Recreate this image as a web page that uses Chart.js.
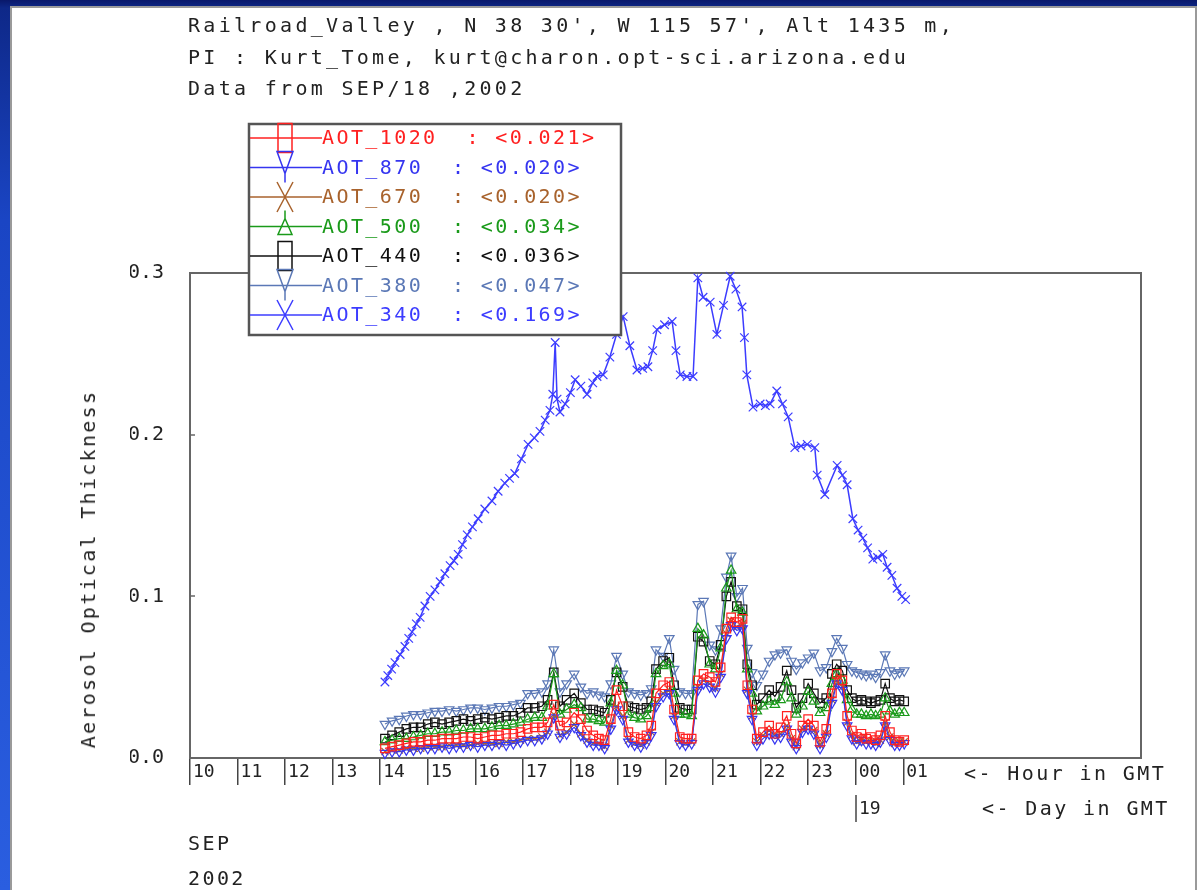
<!DOCTYPE html>
<html><head><meta charset="utf-8">
<script src="https://cdn.jsdelivr.net/npm/chart.js@4.4.1/dist/chart.umd.min.js"></script>
<style>
html,body{margin:0;padding:0;}
body{width:1197px;height:890px;overflow:hidden;position:relative;background:linear-gradient(180deg,#09186a 0px,#0e2888 8px,#1a45c4 220px,#2a5ee0 890px);font-family:"DejaVu Sans Mono",monospace;}
#panel{position:absolute;left:10px;top:6px;width:1183px;height:890px;background:#fff;border-left:2px solid #9a9a9a;border-top:2px solid #9a9a9a;border-right:2px solid #9a9a9a;}
#c{position:absolute;left:0;top:0;}
.t{position:absolute;white-space:pre;color:#222;font-size:20px;letter-spacing:3.3px;line-height:20px;}
.s{position:absolute;white-space:pre;color:#222;font-size:20px;letter-spacing:2.4px;line-height:20px;}
</style></head><body>
<div id="panel"></div>
<canvas id="c" width="1197" height="890"></canvas>
<div class="t" style="left:188px;top:15px">Railroad_Valley , N 38 30', W 115 57', Alt 1435 m,</div>
<div class="t" style="left:188px;top:47px">PI : Kurt_Tome, kurt@charon.opt-sci.arizona.edu</div>
<div class="t" style="left:188px;top:78px">Data from SEP/18 ,2002</div>
<div class="s" style="left:88px;top:569px;letter-spacing:2.3px;transform:translate(-50%,-50%) rotate(-90deg);">Aerosol Optical Thickness</div>
<div class="s" style="left:964px;top:763px">&lt;- Hour in GMT</div>
<div class="s" style="left:982px;top:798px">&lt;- Day in GMT</div>
<div class="s" style="left:188px;top:833px">SEP</div>
<div class="s" style="left:188px;top:868px">2002</div>
<script>
// ---------- data ----------
const seriesNames = ['AOT_1020','AOT_870','AOT_670','AOT_500','AOT_440','AOT_380','AOT_340'];
const legendMeans = [0.021, 0.020, 0.020, 0.034, 0.036, 0.047, 0.169];
const hourTicks = [10,11,12,13,14,15,16,17,18,19,20,21,22,23,24,25];
const hourTickLabels = ['10','11','12','13','14','15','16','17','18','19','20','21','22','23','00','01'];
const dayTicks = [24];
const dayTickLabels = ['19'];
const yTicks = [0, 0.1, 0.2, 0.3];

const hours = [14.10,14.25,14.40,14.55,14.70,14.85,15.00,15.15,15.30,15.45,15.60,15.75,15.90,16.05,16.20,16.35,16.50,16.65,16.80,16.95,
17.10,17.25,17.40,17.52,17.65,17.78,17.92,18.08,18.22,18.35,18.48,18.60,18.72,18.85,18.97,19.10,19.22,19.35,19.48,19.60,
19.70,19.80,19.95,20.08,20.18,20.30,20.42,20.55,20.68,20.80,20.93,21.05,21.16,21.28,21.38,21.50,21.62,21.72,21.82,21.92,
22.05,22.18,22.30,22.42,22.55,22.65,22.75,22.88,23.00,23.12,23.25,23.38,23.50,23.60,23.72,23.82,23.92,24.02,24.12,24.22,
24.32,24.42,24.52,24.62,24.72,24.82,24.92,25.02];

const aot380 = [.021,.023,.024,.026,.027,.027,.028,.029,.029,.030,.029,.030,.031,.031,.030,.031,.032,.032,.033,.034,
.040,.040,.041,.046,.067,.041,.046,.052,.044,.040,.041,.039,.038,.046,.063,.052,.041,.040,.039,.040,
.043,.067,.063,.074,.055,.041,.040,.040,.095,.097,.070,.067,.080,.112,.125,.100,.105,.068,.053,.045,
.052,.060,.064,.065,.067,.060,.055,.059,.062,.065,.054,.056,.066,.074,.068,.058,.054,.053,.052,.051,
.052,.050,.053,.064,.054,.052,.053,.054];
const aot440 = [.012,.014,.016,.018,.019,.019,.021,.022,.021,.022,.023,.024,.023,.024,.025,.024,.025,.026,.026,.028,
.031,.031,.032,.036,.053,.032,.036,.040,.034,.030,.030,.029,.028,.036,.053,.044,.032,.031,.030,.031,
.035,.055,.060,.062,.045,.031,.030,.030,.075,.072,.060,.058,.070,.100,.109,.094,.092,.058,.045,.033,
.037,.042,.038,.044,.054,.042,.031,.037,.046,.040,.034,.037,.052,.058,.054,.042,.037,.035,.036,.035,
.034,.035,.036,.046,.037,.035,.036,.035];
const aot500 = [.010,.011,.012,.012,.013,.014,.015,.015,.016,.016,.017,.017,.018,.018,.018,.019,.020,.020,.021,.022,
.024,.025,.025,.032,.052,.027,.030,.033,.031,.024,.024,.023,.022,.034,.054,.045,.027,.025,.024,.026,
.031,.052,.057,.058,.040,.027,.027,.026,.080,.076,.058,.055,.068,.105,.116,.092,.090,.055,.040,.029,
.032,.035,.033,.036,.047,.037,.027,.032,.041,.035,.028,.031,.046,.052,.048,.036,.030,.027,.027,.026,
.027,.026,.027,.037,.029,.027,.028,.028];
const aot1020 = [.006,.007,.008,.009,.010,.010,.011,.011,.012,.012,.012,.013,.013,.012,.013,.014,.014,.015,.015,.016,
.018,.019,.019,.022,.033,.020,.022,.028,.024,.017,.014,.012,.011,.024,.042,.032,.016,.013,.012,.014,
.020,.040,.045,.047,.030,.013,.012,.012,.048,.052,.050,.047,.056,.080,.087,.084,.086,.045,.030,.012,
.016,.020,.015,.019,.026,.015,.009,.020,.024,.020,.010,.018,.040,.052,.048,.026,.017,.013,.015,.012,
.013,.011,.014,.026,.016,.011,.010,.011];
const aot870 = [.003,.004,.004,.005,.005,.006,.006,.006,.007,.006,.007,.007,.008,.007,.008,.008,.009,.008,.009,.010,
.011,.011,.012,.015,.025,.013,.015,.019,.014,.010,.008,.008,.006,.018,.030,.024,.010,.008,.007,.009,
.014,.032,.038,.040,.024,.009,.008,.009,.042,.046,.044,.041,.050,.074,.082,.079,.080,.040,.024,.008,
.012,.015,.012,.013,.018,.010,.006,.016,.018,.015,.006,.013,.034,.046,.042,.020,.012,.009,.011,.009,
.009,.008,.010,.020,.011,.008,.008,.009];
const aot670 = [.004,.005,.005,.006,.006,.006,.007,.007,.007,.008,.008,.008,.008,.009,.009,.009,.009,.010,.010,.011,
.012,.012,.013,.016,.027,.014,.016,.021,.015,.011,.009,.009,.007,.020,.032,.026,.011,.009,.008,.010,
.016,.034,.040,.042,.026,.010,.009,.010,.044,.048,.046,.043,.052,.077,.085,.081,.083,.042,.026,.010,
.014,.017,.014,.015,.020,.012,.007,.018,.020,.017,.008,.015,.036,.048,.044,.022,.014,.010,.012,.010,
.010,.009,.011,.022,.013,.009,.010,.010];

const hours340 = [14.10,14.16,14.24,14.31,14.42,14.52,14.60,14.67,14.76,14.84,14.94,15.05,15.15,15.26,15.36,15.47,15.55,15.64,15.73,15.83,
15.94,16.06,16.20,16.35,16.48,16.62,16.72,16.83,16.97,17.11,17.24,17.36,17.47,17.57,17.63,17.68,17.72,17.78,17.89,18.00,
18.10,18.22,18.35,18.47,18.56,18.69,18.83,18.97,19.11,19.25,19.40,19.52,19.63,19.73,19.82,19.98,20.14,20.22,20.31,20.45,
20.58,20.68,20.79,20.94,21.08,21.22,21.36,21.48,21.61,21.66,21.71,21.84,21.99,22.10,22.20,22.34,22.46,22.58,22.72,22.85,
22.98,23.14,23.19,23.35,23.61,23.72,23.82,23.94,24.05,24.15,24.25,24.36,24.46,24.57,24.66,24.76,24.87,24.97,25.05];
const aot340 = [0.047,0.051,0.055,0.059,0.064,0.069,0.074,0.078,0.083,0.087,0.094,0.100,0.104,0.109,0.114,0.119,0.122,0.126,0.132,0.138,
0.143,0.148,0.154,0.159,0.165,0.170,0.173,0.176,0.185,0.194,0.198,0.202,0.209,0.215,0.225,0.257,0.222,0.214,0.219,0.226,
0.234,0.230,0.225,0.232,0.236,0.237,0.248,0.262,0.273,0.255,0.240,0.241,0.242,0.252,0.265,0.268,0.270,0.252,0.237,0.236,
0.236,0.297,0.285,0.282,0.262,0.280,0.298,0.290,0.279,0.260,0.237,0.217,0.219,0.218,0.219,0.227,0.219,0.211,0.192,0.193,
0.194,0.192,0.175,0.163,0.181,0.175,0.169,0.148,0.141,0.136,0.130,0.123,0.124,0.126,0.118,0.113,0.105,0.100,0.098];

// ---------- styles ----------
const colors = ['#ff2020','#3535f0','#a8622c','#1a9a1a','#111111','#5b78b6','#3c3cff'];
const markers = [
  {style:'rect', rot:0, r:6, legend:'rect'},
  {style:'triangle', rot:180, r:5.5, legend:'triDown'},
  {style:'crossRot', rot:0, r:5, legend:'x'},
  {style:'triangle', rot:0, r:5.5, legend:'triUp'},
  {style:'rect', rot:0, r:6, legend:'rect'},
  {style:'triangle', rot:180, r:5.5, legend:'triDown'},
  {style:'crossRot', rot:0, r:6, legend:'x'}
];
const seriesValues = [aot1020, aot870, aot670, aot500, aot440, aot380, aot340];
const seriesHours = [hours, hours, hours, hours, hours, hours, hours340];

const datasets = seriesNames.map((name, i) => ({
  label: name,
  data: seriesHours[i].map((h, k) => ({x: h, y: seriesValues[i][k]})),
  borderColor: colors[i],
  backgroundColor: colors[i],
  borderWidth: i === 6 ? 1.5 : 1.2,
  pointStyle: markers[i].style,
  pointRotation: markers[i].rot,
  pointRadius: markers[i].r,
  pointBorderWidth: 1.2,
  pointBackgroundColor: 'rgba(255,255,255,0)',
  pointBorderColor: colors[i],
  tension: 0,
  fill: false,
  clip: false
}));

const MONO = '"DejaVu Sans Mono", monospace';

function drawLegendMarker(ctx, kind, x, y) {
  ctx.beginPath();
  if (kind === 'rect') {
    ctx.rect(x - 7, y - 14.5, 14, 29);
  } else if (kind === 'triDown') {
    ctx.moveTo(x - 8, y - 16); ctx.lineTo(x + 8, y - 16); ctx.lineTo(x, y + 6); ctx.closePath();
    ctx.moveTo(x, y + 6); ctx.lineTo(x, y + 15);
  } else if (kind === 'triUp') {
    ctx.moveTo(x, y - 16); ctx.lineTo(x, y - 8);
    ctx.moveTo(x, y - 8); ctx.lineTo(x + 7, y + 8); ctx.lineTo(x - 7, y + 8); ctx.closePath();
  } else {
    ctx.moveTo(x - 8, y - 15); ctx.lineTo(x + 8, y + 15);
    ctx.moveTo(x + 8, y - 15); ctx.lineTo(x - 8, y + 15);
  }
  ctx.stroke();
}

const framePlugin = {
  id: 'frame',
  beforeDatasetsDraw(chart) {
    const {ctx, chartArea: a} = chart;
    const ys = chart.scales.y;
    ctx.save();
    ctx.strokeStyle = '#666'; ctx.lineWidth = 2;
    ctx.strokeRect(a.left, a.top, a.right - a.left, a.bottom - a.top);
    ctx.lineWidth = 1.5;
    yTicks.forEach(v => {
      const py = Math.round(ys.getPixelForValue(v));
      ctx.beginPath(); ctx.moveTo(a.left, py); ctx.lineTo(a.left + 5, py); ctx.stroke();
    });
    ctx.restore();
  }
};

const legendPlugin = {
  id: 'aotLegend',
  afterDraw(chart) {
    const ctx = chart.ctx;
    ctx.save();
    ctx.fillStyle = '#fff';
    ctx.fillRect(249, 124, 372, 211);
    ctx.strokeStyle = '#555'; ctx.lineWidth = 2.5;
    ctx.strokeRect(249, 124, 372, 211);
    ctx.font = '20px ' + MONO;
    try { ctx.letterSpacing = '2.4px'; } catch (e) {}
    ctx.textBaseline = 'middle';
    ctx.textAlign = 'left';
    chart.data.datasets.forEach((ds, i) => {
      const cy = 138 + i * 29.5;
      ctx.strokeStyle = ds.borderColor; ctx.lineWidth = 1.5;
      ctx.beginPath(); ctx.moveTo(250, cy); ctx.lineTo(322, cy); ctx.stroke();
      drawLegendMarker(ctx, markers[i].legend, 285, cy);
      ctx.fillStyle = ds.borderColor;
      ctx.fillText(ds.label + '  : <' + legendMeans[i].toFixed(3) + '>', 322, cy + 1);
    });
    ctx.restore();
  }
};

const dayPlugin = {
  id: 'dayAxis',
  afterDraw(chart) {
    const ctx = chart.ctx, xs = chart.scales.x;
    ctx.save();
    ctx.strokeStyle = '#444'; ctx.lineWidth = 1.5;
    ctx.fillStyle = '#222';
    ctx.font = '18px ' + MONO;
    ctx.textBaseline = 'middle';
    dayTicks.forEach((h, i) => {
      const px = Math.round(xs.getPixelForValue(h));
      ctx.beginPath(); ctx.moveTo(px, 795); ctx.lineTo(px, 822); ctx.stroke();
      ctx.fillText(dayTickLabels[i], px + 3, 809);
    });
    ctx.restore();
  }
};

new Chart(document.getElementById('c'), {
  type: 'line',
  data: {datasets},
  options: {
    responsive: false,
    animation: false,
    devicePixelRatio: 1,
    layout: {padding: {left: 130, right: 56, top: 273, bottom: 92}},
    plugins: {legend: {display: false}, tooltip: {enabled: false}},
    scales: {
      x: {
        type: 'linear', min: 10, max: 30,
        afterBuildTicks: s => { s.ticks = hourTicks.map(v => ({value: v})); },
        afterFit: s => { s.height = 40; },
        grid: {display: true, drawOnChartArea: false, drawTicks: true, tickLength: 27, color: '#444', lineWidth: 1.5},
        border: {display: false},
        ticks: {autoSkip: false, maxRotation: 0, minRotation: 0, align: 'start', labelOffset: 3, padding: -23,
          font: {family: MONO, size: 18}, color: '#222',
          callback: (v, i) => hourTickLabels[i]}
      },
      y: {
        min: 0, max: 0.3,
        afterBuildTicks: s => { s.ticks = yTicks.map(v => ({value: v})); },
        afterFit: s => { s.width = 60; },
        grid: {display: false, drawTicks: false},
        border: {display: false},
        ticks: {padding: 26, font: {family: MONO, size: 20}, color: '#222',
          callback: v => Number(v).toFixed(1)}
      }
    }
  },
  plugins: [framePlugin, legendPlugin, dayPlugin]
});
</script>
</body></html>
